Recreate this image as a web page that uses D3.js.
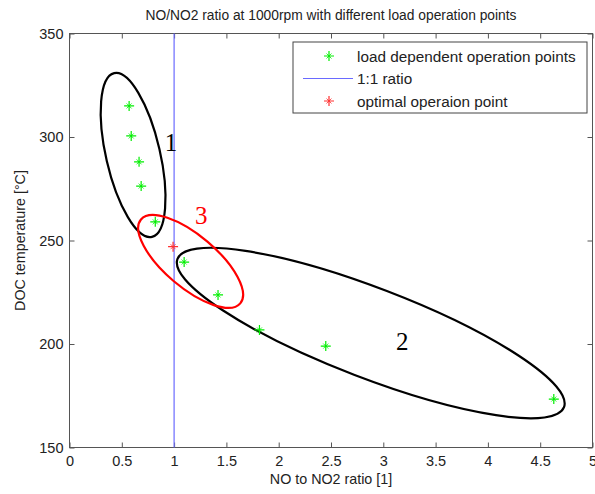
<!DOCTYPE html>
<html>
<head>
<meta charset="utf-8">
<script src="https://cdn.jsdelivr.net/npm/d3@7"></script>
<style>
  body { margin: 0; background: #fff; }
  text { font-family: "Liberation Sans", Arial, sans-serif; }
</style>
</head>
<body>
<div id="chart"></div>
<script>
// load dependent operation points (NO/NO2 ratio vs DOC temperature)
var noRatio = [0.57, 0.59, 0.665, 0.685, 0.82, 1.096, 1.42, 1.816, 2.45, 4.63];
var docTemp = [315, 300.5, 288, 276.3, 259, 239.6, 223.7, 206.8, 199, 173.4];
// optimal point
var optRatio = [0.99];
var optTemp = [247];
// ticks
var xTicks = [0, 0.5, 1, 1.5, 2, 2.5, 3, 3.5, 4, 4.5, 5];
var yTicks = [150, 200, 250, 300, 350];
var legendLabels = ["load dependent operation points", "1:1 ratio", "optimal operaion point"];

var W = 595, H = 494;
var margin = { top: 33.5, right: 2.5, bottom: 46.5, left: 69.5 };
var w = W - margin.left - margin.right,
    h = H - margin.top - margin.bottom;

var svg = d3.select("#chart").append("svg")
    .attr("width", W).attr("height", H);
var g = svg.append("g")
    .attr("transform", "translate(" + margin.left + "," + margin.top + ")");

var x = d3.scaleLinear().domain([0, 5]).range([0, w]);
var y = d3.scaleLinear().domain([150, 350]).range([h, 0]);

var axisColor = "#555";
function styleAxis(sel) {
    sel.select(".domain").remove();
    sel.selectAll("line").attr("stroke", axisColor);
    sel.selectAll("text").attr("fill", "#222").style("font-size", "14.5px");
}

// axes, ticks inside the box
g.append("g").attr("transform", "translate(0," + h + ")")
    .call(d3.axisBottom(x).tickValues(xTicks).tickSizeInner(-5).tickSizeOuter(0).tickPadding(8)
        .tickFormat(function (d) { return d; }))
    .call(styleAxis);
g.append("g")
    .call(d3.axisTop(x).tickValues(xTicks).tickSizeInner(-5).tickSizeOuter(0).tickFormat(""))
    .call(styleAxis);
g.append("g")
    .call(d3.axisLeft(y).tickValues(yTicks).tickSizeInner(-5).tickSizeOuter(0).tickPadding(6))
    .call(styleAxis);
g.append("g").attr("transform", "translate(" + w + ",0)")
    .call(d3.axisRight(y).tickValues(yTicks).tickSizeInner(-5).tickSizeOuter(0).tickFormat(""))
    .call(styleAxis);

g.append("rect")
    .attr("width", w).attr("height", h)
    .attr("fill", "none").attr("stroke", axisColor).attr("stroke-width", 1);

// 1:1 line
g.append("line")
    .attr("x1", x(1)).attr("x2", x(1))
    .attr("y1", 0).attr("y2", h)
    .attr("stroke", "#6a6aff").attr("stroke-width", 1.2);

// grouping ellipses (center in data units, radii in px)
var ellipses = [
    { cx: 0.608, cy: 291.3, rx: 84, ry: 27, angle: 77, color: "#000", label: "1", lx: 0.97, ly: 293 },
    { cx: 2.88, cy: 205.3, rx: 207, ry: 45, angle: 21, color: "#000", label: "2", lx: 3.18, ly: 197 },
    { cx: 1.158, cy: 239.9, rx: 65, ry: 26, angle: 40.2, color: "#f00", label: "3", lx: 1.26, ly: 258 }
];
ellipses.forEach(function (e) {
    g.append("ellipse")
        .attr("transform", "translate(" + x(e.cx) + "," + y(e.cy) + ") rotate(" + e.angle + ")")
        .attr("rx", e.rx).attr("ry", e.ry)
        .attr("fill", "none").attr("stroke", e.color).attr("stroke-width", 2.2);
    g.append("text")
        .attr("x", x(e.lx)).attr("y", y(e.ly))
        .attr("text-anchor", "middle")
        .style("font-family", "'Liberation Serif', 'Times New Roman', serif")
        .style("font-size", "25px")
        .attr("fill", e.color)
        .text(e.label);
});

// asterisk marker (MATLAB '*'): plus with shorter diagonals
function star(sel, r, color) {
    sel.append("path")
        .attr("d", "M" + (-r) + ",0H" + r + "M0," + (-r) + "V" + r)
        .attr("stroke", color).attr("stroke-width", 1.2).attr("fill", "none");
    var q = r * 0.5;
    sel.append("path")
        .attr("d", "M" + (-q) + "," + (-q) + "L" + q + "," + q + "M" + (-q) + "," + q + "L" + q + "," + (-q))
        .attr("stroke", color).attr("stroke-width", 0.8).attr("fill", "none");
}

var pts = noRatio.map(function (d, i) { return { x: d, y: docTemp[i] }; });
g.selectAll(".pt").data(pts).enter().append("g")
    .attr("class", "pt")
    .attr("transform", function (d) { return "translate(" + x(d.x) + "," + y(d.y) + ")"; })
    .each(function () { star(d3.select(this), 5, "#00ee00"); });

var opt = optRatio.map(function (d, i) { return { x: d, y: optTemp[i] }; });
g.selectAll(".opt").data(opt).enter().append("g")
    .attr("class", "opt")
    .attr("transform", function (d) { return "translate(" + x(d.x) + "," + y(d.y) + ")"; })
    .each(function () { star(d3.select(this), 5, "#ff3030"); });

// legend
var lg = svg.append("g").attr("transform", "translate(293,42)");
lg.append("rect").attr("width", 294).attr("height", 71)
    .attr("fill", "#fff").attr("stroke", "#444").attr("stroke-width", 1);
legendLabels.forEach(function (t, i) {
    var yy = 14 + i * 22.5;
    if (i === 1) {
        lg.append("line").attr("x1", 10).attr("x2", 60).attr("y1", yy).attr("y2", yy)
            .attr("stroke", "#6a6aff").attr("stroke-width", 1.2);
    } else {
        star(lg.append("g").attr("transform", "translate(36," + yy + ")"), 5, i === 0 ? "#00ee00" : "#ff3030");
    }
    lg.append("text").attr("x", 64).attr("y", yy + 5.5)
        .style("font-size", "15.3px").attr("fill", "#222").text(t);
});

// title and axis labels
svg.append("text").attr("x", margin.left + w / 2).attr("y", 20)
    .attr("text-anchor", "middle").style("font-size", "13.8px").attr("fill", "#222")
    .text("NO/NO2 ratio at 1000rpm with different load operation points");
svg.append("text").attr("x", margin.left + w / 2).attr("y", 484)
    .attr("text-anchor", "middle").style("font-size", "14.3px").attr("fill", "#222")
    .text("NO to NO2 ratio [1]");
svg.append("text")
    .attr("transform", "translate(25," + (margin.top + h / 2) + ") rotate(-90)")
    .attr("text-anchor", "middle").style("font-size", "14.3px").attr("fill", "#222")
    .text("DOC temperature [°C]");
</script>
</body>
</html>
